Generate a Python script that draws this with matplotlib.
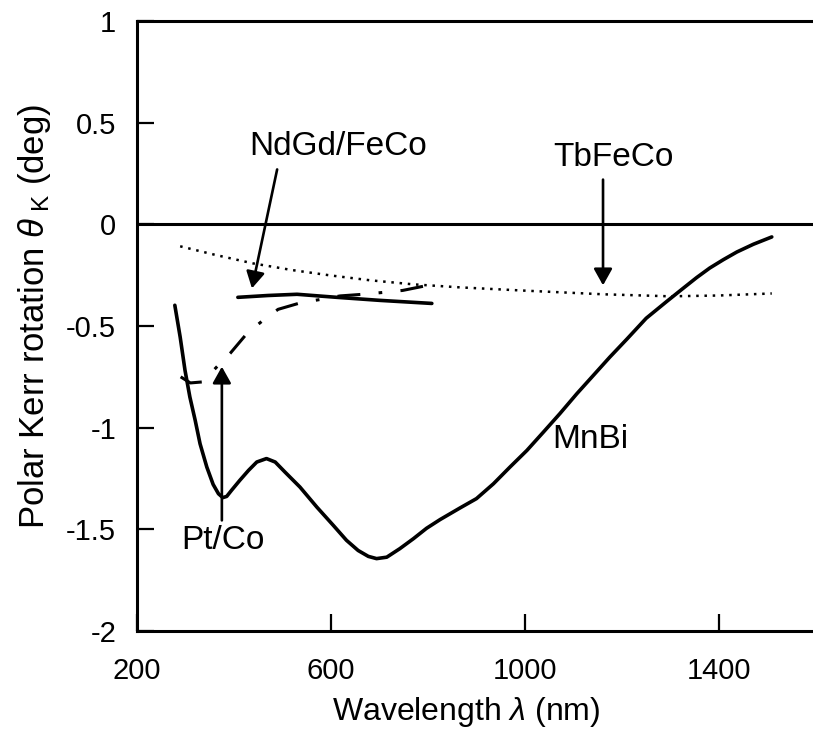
import matplotlib
matplotlib.use("Agg")
import matplotlib.pyplot as plt

plt.rcParams['font.family'] = ['Liberation Sans', 'DejaVu Sans']
plt.rcParams['mathtext.fontset'] = 'custom'
plt.rcParams['mathtext.rm'] = 'Liberation Sans'
plt.rcParams['mathtext.it'] = 'Liberation Sans:italic'
plt.rcParams['axes.unicode_minus'] = False

# MnBi polar Kerr rotation spectrum
mnbi_wl = [278, 289, 299, 309, 320, 330, 344, 357, 368, 377, 385, 395, 412, 430, 447,
           467, 485, 505, 536, 571, 605, 632, 656, 677, 694, 715, 742, 770, 797, 825,
           866, 900, 935, 969, 1004, 1038, 1072, 1107, 1141, 1175, 1210, 1250, 1292,
           1326, 1354, 1381, 1409, 1437, 1471, 1509]
mnbi_kerr = [-0.398, -0.554, -0.718, -0.849, -0.964, -1.079, -1.194, -1.279, -1.325,
             -1.344, -1.338, -1.308, -1.259, -1.210, -1.169, -1.152, -1.169, -1.218,
             -1.292, -1.391, -1.481, -1.554, -1.604, -1.633, -1.644, -1.637, -1.595,
             -1.546, -1.495, -1.452, -1.395, -1.349, -1.276, -1.194, -1.112, -1.022,
             -0.931, -0.833, -0.743, -0.653, -0.565, -0.462, -0.380, -0.315, -0.262,
             -0.215, -0.174, -0.136, -0.098, -0.062]

# TbFeCo
tbfeco_wl = [289, 361, 439, 520, 598, 680, 769, 866, 990, 1161, 1299, 1400, 1509]
tbfeco_kerr = [-0.108, -0.150, -0.192, -0.225, -0.251, -0.275, -0.295, -0.310, -0.325,
               -0.344, -0.354, -0.350, -0.340]

# NdGd/FeCo
ndgd_wl = [408, 470, 530, 612, 701, 808]
ndgd_kerr = [-0.359, -0.350, -0.344, -0.359, -0.374, -0.389]

# Pt/Co multilayer
ptco_wl = [290, 310, 335, 365, 392, 427, 460, 491, 540, 577, 619, 666, 707, 748, 800]
ptco_kerr = [-0.75, -0.78, -0.775, -0.70, -0.635, -0.536, -0.472, -0.418, -0.384,
             -0.370, -0.352, -0.344, -0.335, -0.325, -0.30]

xticks = [200, 600, 1000, 1400]
xtick_labels = ['200', '600', '1000', '1400']
yticks = [-2, -1.5, -1, -0.5, 0, 0.5, 1]
ytick_labels = ['-2', '-1.5', '-1', '-0.5', '0', '0.5', '1']

fig = plt.figure(figsize=(8.13, 7.35), dpi=100)
ax = fig.add_axes([137 / 813, 104 / 735, 676 / 813, 610 / 735])

ax.plot(mnbi_wl, mnbi_kerr, color='black', lw=2.6, solid_capstyle='round',
        solid_joinstyle='round')
ax.plot(tbfeco_wl, tbfeco_kerr, color='black', lw=1.8, linestyle=(0, (1, 2.3)))
ax.plot(ndgd_wl, ndgd_kerr, color='black', lw=2.6, solid_capstyle='round')
ax.plot(ptco_wl, ptco_kerr, color='black', lw=2.2,
        linestyle=(0, (7.5, 6.0, 1.2, 6.0)))
ax.axhline(0, color='black', lw=2.2)

ax.set_xlim(200, 1594)
ax.set_ylim(-2, 1)
ax.set_xticks(xticks)
ax.set_xticklabels(xtick_labels)
ax.set_yticks(yticks)
ax.set_yticklabels(ytick_labels)
ax.tick_params(direction='in', length=12, width=1.6, labelsize=21)
ax.tick_params(axis='y', pad=15)
ax.tick_params(axis='x', pad=19)
for side in ['left', 'bottom', 'top']:
    ax.spines[side].set_linewidth(2.2)
ax.spines['right'].set_visible(False)

ax.set_xlabel(r'Wavelength $\lambda$ (nm)', fontsize=23, va='center')
ax.xaxis.set_label_coords(0.487, -0.133)
ax.set_ylabel(r'Polar Kerr rotation $\theta_{\ \mathrm{K}}$ (deg)', fontsize=25,
              va='center')
ax.yaxis.set_label_coords(-0.152, 0.516)

arrow = dict(arrowstyle='-|>,head_length=0.5,head_width=0.28', lw=1.9,
             color='black', mutation_scale=20, shrinkA=0, shrinkB=0)
ax.annotate('', xy=(437, -0.315), xytext=(489, 0.27), arrowprops=arrow)
ax.annotate('', xy=(1161, -0.30), xytext=(1161, 0.22), arrowprops=arrow)
ax.annotate('', xy=(375, -0.70), xytext=(375, -1.456), arrowprops=arrow)

ax.text(614, 0.384, 'NdGd/FeCo', fontsize=24, ha='center', va='center')
ax.text(1183, 0.33, 'TbFeCo', fontsize=24, ha='center', va='center')
ax.text(378, -1.555, 'Pt/Co', fontsize=24, ha='center', va='center')
ax.text(1134, -1.058, 'MnBi', fontsize=24, ha='center', va='center')

fig.savefig('out.png', dpi=100)
